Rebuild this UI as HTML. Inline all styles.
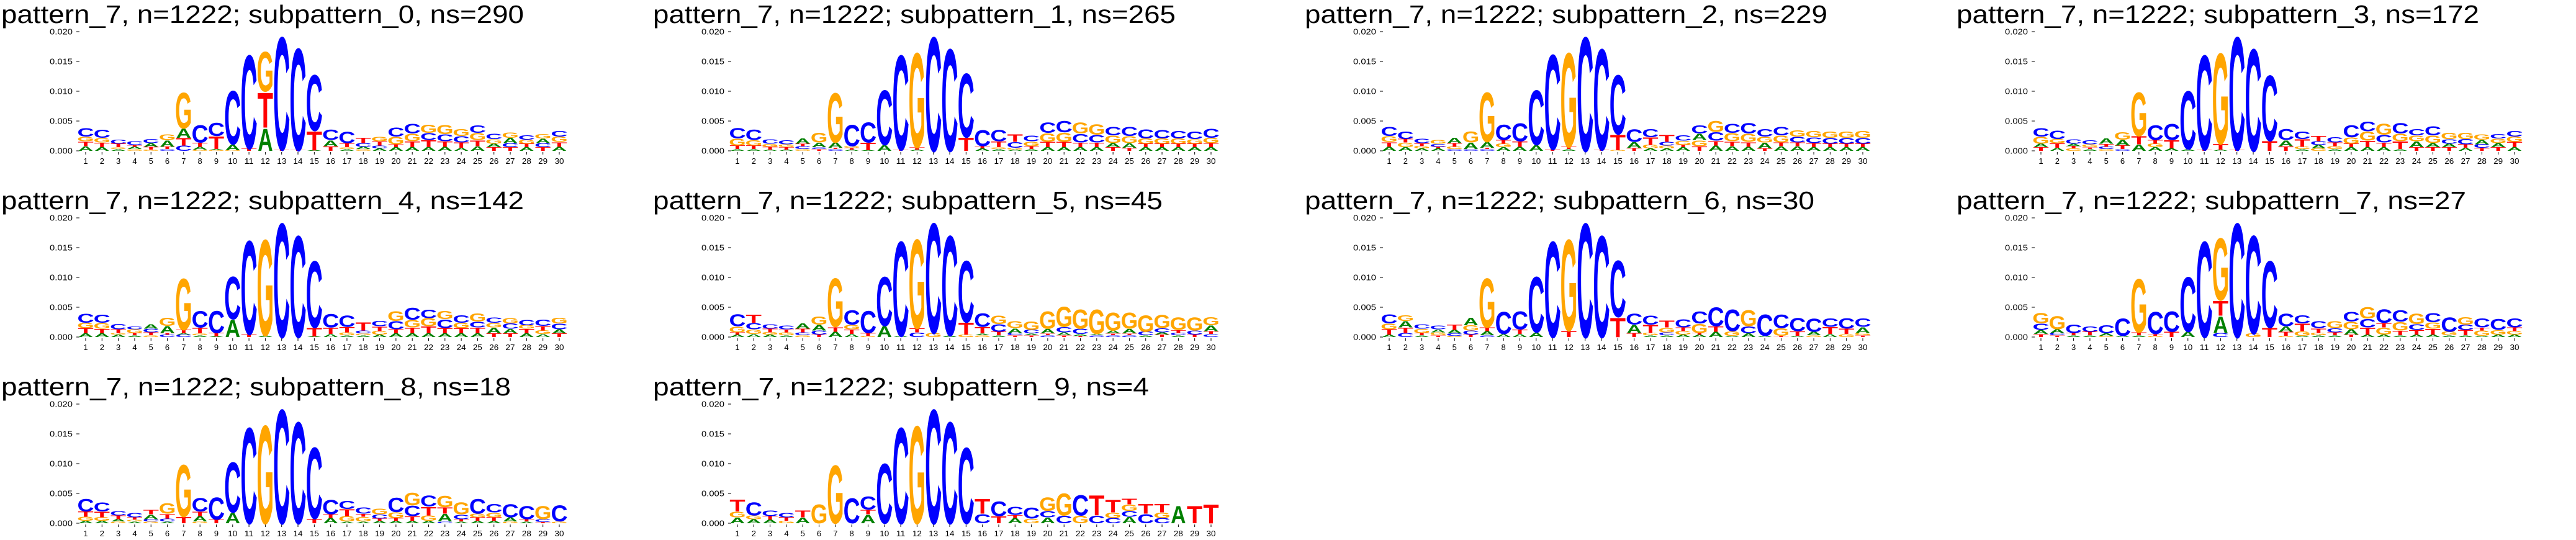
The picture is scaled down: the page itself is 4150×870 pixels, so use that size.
<!DOCTYPE html>
<html><head><meta charset="utf-8">
<style>
html,body{margin:0;padding:0;background:#fff;}
svg{display:block;}
</style></head>
<body>
<svg id="fig" xmlns="http://www.w3.org/2000/svg" width="4150" height="870" viewBox="0 0 4150 870"></svg>
<script>
// Logo data: each column bottom->top, letter + height in units of 0.001
const positions = [1,2,3,4,5,6,7,8,9,10,11,12,13,14,15,16,17,18,19,20,21,22,23,24,25,26,27,28,29,30];
const yTicks = [0, 0.005, 0.010, 0.015, 0.020];
const yTickLabels = ["0.000","0.005","0.010","0.015","0.020"];
const nsValues = [290,265,229,172,142,45,30,27,18,4];
const sub0 = ["A.8T.8G.8C1.5","A.6T.8G.8C1.4","A.3G.3T.6C.7","G.3A.4T.3C.6","G.2T.5A.6C.7","C.3T.4A1.1G1.0","C.9T1.3A1.6G6.3","G.2A.5T.7C3.0","G.1A.2T2.2C2.3","G.1A1.0C9.4","T.4C16.4","A3.9T6.1G7.0","T.2C19.8","T.1C17.9","A.1T3.3C9.8","T.8A1.0C1.8","A.3G.3T.7C2.0","G.3A.4C.6T.9","A.4C.5T.7G.8","A.6T.5G1.3C1.6","A.6T1.0G1.3C1.7","A.6T1.2C1.2G1.4","A.7T.9C1.2G1.6","A.5T.9C1.1G1.2","A.8T1.0G1.2C1.3","T.6A.6G.8C.9","T.6C.7A.9G.9","A.6T.6G.7C.8","T.6C.7A.8G.8","A.7T.8G.9C1.0"];
const sub1 = ["A.3T.6G1.2C1.8","A.3T.6G.9C1.8","A.2T.5G.5C.8","A.2T.4G.5C.7","G.3C.5T.4A.9","T.3C.3A.8G1.7","C.3T.2A.9G8.7","A.2T.3G.3C3.7","A.1T1.3C3.5","A1.0C9.6","T.2C16.6","A.2T.4G16.6","C20","C17.9","T2.3C11.2","A.4T.4C2.8","A.3G.3T1.0C2.0","A.2G.3C1.0T1.3","A.3T.5G.8C1.0","A.6T.9G1.5C1.8","A.6T.9G1.6C2.0","A.6T.8C1.5G1.9","A.6T.8C1.3G1.8","T.6A.7G1.3C1.5","T.5A.8G1.2C1.6","A.6T.6G.9C1.6","A.6T.6G.9C1.5","A.6T.6G.9C1.3","A.6T.6G.8C1.3","A.6T.7G.9C1.6"];
const sub2 = ["A.7T.8G1.0C1.6","A.6G.8T.6C1.3","A.4G.4T.5C.8","A.4T.3C.5G.6","C.3G.4T.6A.9","C.3A1.1G1.9","C.3T.2A1.0G8.7","A.6G.6T.6C2.7","A.7T.9C3.2","A1.0C9.6","T.3C16.6","A.3T.4G16.5","C20","T.2C17.7","G.1T2.7C10.4","T.5A1.0C2.2","A.4G.6T1.3C1.4","A.4G.5C.6T1.2","A.6T.4G.7C.9","T.8G1.0A1.1C1.4","A.9T.8C1.5G1.9","A.8T.8G1.4C1.6","A.7T.8G1.4C1.8","T.4A1.0G1.0C1.3","A.8T.6G1.2C1.5","A.8T.6C1.0G1.1","A.6T.7C1.0G1.1","A.6T.6C1.0G1.1","A.6T.6C1.0G1.1","A.6T.6C1.0G1.2"];
const sub3 = ["T.6A.6G1.2C1.5","A.5T.8G.7C1.5","G.4T.4A.4C.8","A.3T.3G.5C.7","G.3C.4T.5A.9","C.3T.6A1.0G1.3","A1.1T1.4G7.7","A.6G.6T.6C2.6","A.4T1.4C2.8","A.3C10.2","T.2C16.6","A.2T1.0G15.9","T.2C19.8","C17.9","T1.7C11.5","T.8A1.0C1.9","A.3G.4T1.3C1.3","G.4A.6C.6T.9","A.3G.5T.6C.9","A.6T.6G1.1C2.1","A.6T1.1G1.6C1.7","A.6T.8C1.3G1.9","A.3T1.3G1.3C1.8","T.6A1.0G1.0C1.1","T.6A.7G1.3C1.6","T.6A.6C.8G1.1","A.5T.6C.9G1.1","T.5C.6A.8G.9","T.6A.7G.8C.8","A.6T.9G.9C1.0"];
const sub4 = ["A.6T.9G.9C1.6","A.6T.8G1.0C1.4","A.4G.3T.6C.9","A.3T.4G.6C.5","G.3T.5C.6A.8","C.4T.3A1.2G1.4","C.4A.2T.6G9.0","A.3G.3T1.0C2.9","A.1T.6C3.9","A3.0C7.5","T.5C16.4","A.3G16.8","C20","C17.8","A.1T1.5C11.7","A.5T1.1C2.4","A.3G.5T.9C2.0","A.3G.3C.5T1.4","A.4G.6T.8C.9","A.6T.7C1.4G1.7","A.6T1.0G1.3C2.1","A.6T1.2G1.4C1.5","A.6T.9C1.5G1.4","A.6T.9G.9C1.3","A.6T1.0C1.0G1.4","T.6A1.0G.8C.9","T.6A.8C.9G.9","A.6T.8G.6C.9","A.5G.6T.8C1.1","T.6A.7C1.0G1.0"];
const sub5 = ["A.4T.4G1.0C2.1","A.5G.8C1.1T1.4","A.4G.4T.6C.8","A.3G.5T.5C.6","G.3C.5T.6A.9","T.4C.7A1.0G1.4","A.9T.8G8.5","A.5T.8G.8C2.5","G.2T.5C3.9","A1.9C8.6","A.2C16.6","C.8T.7G15.6","G.7C19.3","A.3C17.5","G.4T2.1C10.8","G.3A.3T1.1C2.4","A.3T.6C1.3G1.5","T.3C.4A.8G1.2","T.3A.3C.6G1.5","C.3T.3A.8G3.0","T.3A.5C.9G3.5","T.2A.3C.9G3.4","C.3A.2G4.3","C.3T.3A.5G3.2","C.3T.3A.8G2.8","A.3C.6G2.9","T.4A.4C.7G2.3","A.3C.4T.5G2.2","T.4C.7G2.3","C.5T.5A1.0G1.4"];
const sub6 = ["A.4T.9G1.0C1.6","C.7T.9A1.1G1.0","A.3T.4G.7C.8","T.3G.5A.5C.6","G.2C.4A.6T.9","T.4C.7G.9A1.3","C.3A.7T.6G8.6","A.5C3.9","A.5T.8C3.2","A.8C9.7","C16.8","T1.1G16.0","C20","C17.8","T3.4C9.9","T.7A1.4C1.9","A.3G.4T1.4C1.6","A.3C.5G.8T1.2","A.4G.6T.6C1.4","A.4T.3G1.6C2.1","A.9T.9C3.3","A.2G.8C3.8","A.6C1.2G2.8","A.2C3.7","T.2G1.3C2.4","A.2T.8C2.3","G.3A.6C2.3","A.5T1.2C1.5","G.5T.9C1.8","T.3G.4A1.0C1.5"];
const sub7 = ["T.5A.7C1.1G1.8","T.3C.4A.6G2.3","A.3T.4C1.5","A.3T.6C.9","G.2A.4C1.4","A.2C3.0","A.3T.5G9.4","G.2T.3C3.9","T.9C3.6","A.9C9.6","C16.8","C.7A2.9T2.6G10.9","C20","G.6C17.2","T1.6C11.7","G.2T.7A.9C2.2","A.2G.8T1.3C1.4","A.3G.4T.8C1.2","A.3T.5C.7G1.2","T.4A.9G1.3C1.7","A.4T1.2C1.5G2.0","A.4G1.2T.8C2.4","A.3T.8G1.5C2.0","A.4T.8C1.0G1.8","A.4T1.0G1.1C1.6","A.3G.6C2.5","A.3T.9C.9G1.3","A.2G.9T.5C1.6","A.4G.8C1.9","A.4G.6T.6C1.6"];
const sub8 = ["A.4G.7T.9C2.2","A.4G.6T1.0C1.6","G.3A.4T.6C.8","A.3G.3T.4C.8","G.3C.4A.8T.8","A.3C.5T.8G1.8","T1.1G9.1","G.3A.9T.8C2.4","T.6C3.9","A1.8C8.8","C16.8","G17.2","C20","C17.8","T.8C12.5","A.9T.6C2.5","A.3G.9T1.2C1.4","A.3G.8T.5C1.1","A.4T.4C.7G1.0","A.4T.5G1.0C2.5","A.4T.8C1.8G2.2","A.4G.9T1.5C1.9","C.3A1.3T1.1G2.0","A.3T.4C.8G2.1","A.4T.6G.6C2.6","A.4T.6G.8C1.5","G.3A.7C2.3","A.3T.4C2.3","T.2C.5G2.3","G.3C2.8"];
const sub9 = ["A1.0G1.0T2.1","A.7G.6C2.3","A.6T.6C1.0","G.4T.6C.8","A1.0T1.2","G3.3","G10.2","C4.4","A1.5T.8C2.3","C10.5","C16.8","G17.1","C20","C17.8","C13.3","C1.6T2.6","T1.2C2.6","A.9T.5C1.4","G.8C1.9","A1.0C1.1G2.4","C1.3G3.9","G1.3C3.6","C1.3T3.5","C.9G.9T2.2","A1.1C1.0G1.1T1.0","C1.6T1.7","C.9G.9T1.5","A3.0","T3.0","T3.3"];
const panels = [sub0,sub1,sub2,sub3,sub4,sub5,sub6,sub7,sub8,sub9];

const NS = "http://www.w3.org/2000/svg";
const svg = document.getElementById('fig');
const COLORS = {A:"#008000", C:"#0000ff", G:"#ffa500", T:"#ff0000"};
const ADV = {A:72.2, C:72.2, G:77.8, T:61.1};
const INK = {A:71, C:64, G:68, T:58};
const PX = 1050, PY = 300;
const Y0 = 243, YTOP = 51;
const X1 = 138, DX = 26.31;
function yScale(v){ return Y0 - (v/0.020)*(Y0-YTOP); }
function xScale(i){ return X1 + i*DX; }
function mk(tag, attrs){ const e=document.createElementNS(NS,tag); for(const k in attrs) e.setAttribute(k,attrs[k]); return e; }
function parseCol(s){ const out=[]; const re=/([ACGT])([\d.]+)/g; let m; while((m=re.exec(s))) out.push([m[1], parseFloat(m[2])/1000]); return out; }

panels.forEach((data, p) => {
  const ox = (p%4)*PX, oy = Math.floor(p/4)*PY;
  const g = mk('g', {transform:`translate(${ox},${oy})`});
  
  
  svg.appendChild(g);
  const title = `pattern_7, n=1222; subpattern_${p}, ns=${nsValues[p]}`;
  const t = mk('text', {x:2, y:37, 'font-family':'Liberation Sans, sans-serif', 'font-size':41, fill:'#000', textLength: (title.length*21.6).toFixed(0), lengthAdjust:'spacingAndGlyphs'});
  t.textContent = title;
  
  
  g.appendChild(t);
  // y axis ticks
  yTicks.forEach((v, k) => {
    const y = yScale(v);
    const tk = mk('line', {x1:123, x2:128, y1:y, y2:y, stroke:'#000', 'stroke-width':1});
    
    
    g.appendChild(tk);
    const lb = mk('text', {x:117, y:y+4.5, 'text-anchor':'end', 'font-family':'Liberation Sans, sans-serif', 'font-size':13, textLength:37, lengthAdjust:'spacingAndGlyphs', fill:'#000'});
    lb.textContent = yTickLabels[k];
    
    
    g.appendChild(lb);
  });
  // x ticks + labels
  positions.forEach((pos, i) => {
    const x = xScale(i);
    const tk = mk('line', {x1:x, x2:x, y1:Y0+2, y2:Y0+6, stroke:'#000', 'stroke-width':1});
    
    
    g.appendChild(tk);
    const lb = mk('text', {x:x, y:Y0+21, 'text-anchor':'middle', 'font-family':'Liberation Sans, sans-serif', 'font-size':13, fill:'#000'});
    if (pos >= 10) { lb.setAttribute('textLength', 15); lb.setAttribute('lengthAdjust','spacingAndGlyphs'); }
    lb.textContent = String(pos);
    
    
    g.appendChild(lb);
  });
  // letters
  data.forEach((colStr, i) => {
    const x = xScale(i);
    let acc = 0;
    parseCol(colStr).forEach(([L, h]) => {
      const yb = yScale(acc), yt = yScale(acc + h);
      acc += h;
      const hp = yb - yt;
      if (hp < 0.3) return;
      const sx = 24 / INK[L], sy = hp / 72.9;
      const lt = mk('text', {x:0, y:0, 'text-anchor':'middle', 'font-family':'Liberation Sans, sans-serif', 'font-weight':'bold', 'font-size':100, fill:COLORS[L], transform:`translate(${x.toFixed(2)},${yb.toFixed(2)}) scale(${sx.toFixed(4)},${sy.toFixed(4)})`});
      lt.textContent = L;
      
      
      g.appendChild(lt);
    });
  });
});
</script>
</body></html>
